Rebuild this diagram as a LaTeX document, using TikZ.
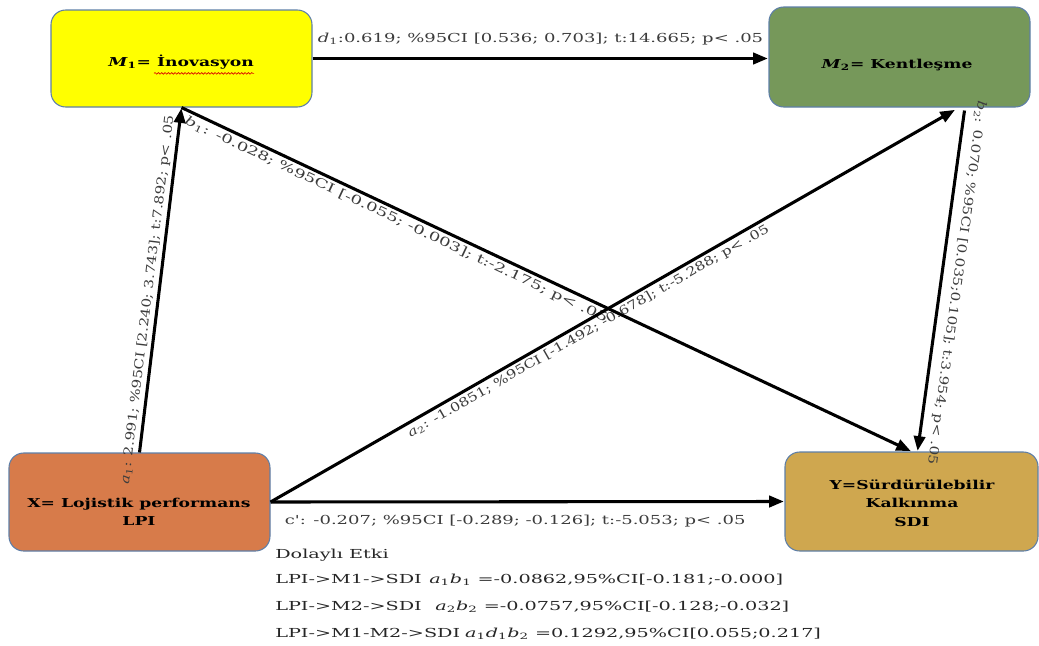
\documentclass[tikz,border=0pt]{standalone}
\usepackage{fontspec}
\setmainfont{DejaVu Serif}
\newfontfamily\lblA[FakeStretch=1.45]{DejaVu Serif}
\newfontfamily\lblB[FakeStretch=1.26]{DejaVu Serif}
\newfontfamily\lblC[FakeStretch=1.22]{DejaVu Serif}
\newfontfamily\blkfont[FakeStretch=1.55]{DejaVu Serif}
\newfontfamily\boxfont[FakeStretch=1.4]{DejaVu Serif}
\usetikzlibrary{arrows.meta,calc,decorations.pathmorphing}
\definecolor{yel}{HTML}{FFFF00}
\definecolor{grn}{RGB}{118,152,90}
\definecolor{org}{RGB}{215,123,74}
\definecolor{tan}{RGB}{207,167,79}
\definecolor{bord}{RGB}{94,127,168}
\definecolor{lblgray}{RGB}{60,60,60}
\tikzset{
  box/.style={draw=bord, line width=0.8pt, rounded corners=11pt, inner sep=0pt},
  boxtxt/.style={font=\boxfont\bfseries\fontsize{9.2}{14}\selectfont, text=black, align=center, inner sep=0pt},
  arr/.style={line width=2.3pt, -{Triangle[length=11pt,width=8.5pt]}, shorten >=0.5pt},
  lbl/.style={text=lblgray, inner sep=2pt},
  lblh/.style={lbl, font=\lblA\fontsize{9.3}{11}\selectfont},
  lbls/.style={lbl, font=\lblB\fontsize{9.3}{11}\selectfont},
  lblv/.style={lbl, font=\lblC\fontsize{9.3}{11}\selectfont},
  blk/.style={font=\blkfont\fontsize{9.3}{11}\selectfont, text=black!85, anchor=base west, inner sep=0pt},
}
\begin{document}
\begin{tikzpicture}[x=0.75pt,y=-0.75pt]
\useasboundingbox (0,0) rectangle (1039,646);
% boxes
\node[box, fill=yel, minimum width=195.75pt, minimum height=72.75pt] (M1) at (181.5,58.5) {};
\node[box, fill=grn, minimum width=195.75pt, minimum height=75pt] (M2) at (899.5,57) {};
\node[box, fill=org, minimum width=195.75pt, minimum height=73.5pt] (X) at (139.5,502) {};
\node[box, fill=tan, minimum width=189.75pt, minimum height=74.25pt] (Y) at (911.5,501.5) {};
% box texts
\node[boxtxt] (M1t) at (181,62) {\textit{M}\textsubscript{1}= İnovasyon};
\node[boxtxt] (M2t) at (897,65) {\textit{M}\textsubscript{2}= Kentleşme};
\node[boxtxt] (Xt) at (139,512) {X= Lojistik performans\\LPI};
\node[boxtxt] (Yt) at (912,503) {Y=Sürdürülebilir\\Kalkınma\\SDI};
% spell-check squiggle
\draw[red!85!black, line width=0.5pt, decorate, decoration={snake, amplitude=0.6pt, segment length=2.5pt}] ($(M1t.south east)+(-100,4)$) -- ($(M1t.south east)+(0,4)$);
% connectors
\draw[arr] (M1.east) -- (M1.east -| M2.west)
  node[lblh, pos=0.5, above=7pt] (ld1) {\textit{d}\textsubscript{1}:0.619; \%95CI [0.536; 0.703]; t:14.665; p< .05};
\draw[arr] (X.north) -- (M1.south)
  node[lblv, sloped, pos=0.44, above] (la1) {\textit{a}\textsubscript{1}: 2.991; \%95CI [2.240; 3.743]; t:7.892; p< .05};
\draw[arr] (M1.south) -- (Y.north)
  node[lblh, sloped, pos=0.30, below] (lb1) {\textit{b}\textsubscript{1}: -0.028; \%95CI [-0.055; -0.003]; t:-2.175; p< .05};
\draw[arr] (X.east) -- ($(M2.south)+(56,2)$)
  node[lbls, sloped, pos=0.457, below] (la2) {\textit{a}\textsubscript{2}: -1.0851; \%95CI [-1.492; -0.678]; t:-5.288; p< .05};
\draw[arr] ($(M2.south)+(65,3)$) -- ($(Y.north)+(6,0)$)
  node[lblv, sloped, allow upside down, pos=0.5, above=4pt] (lb2) {\textit{b}\textsubscript{2}: 0.070; \%95CI [0.035;0.105]; t:3.954; p< .05};
\draw[arr] (X.east) -- (Y.west)
  node[lblh, pos=0.476, below=7pt] (lc) {c': -0.207; \%95CI [-0.289; -0.126]; t:-5.053; p< .05};
% indirect effects
\node[blk] (d0) at (275,558) {Dolaylı Etki};
\node[blk] (d1) at (275,583) {LPI->M1->SDI\hspace{0.6em}\textit{a}\textsubscript{1}\textit{b}\textsubscript{1} =-0.0862,95\%CI[-0.181;-0.000]};
\node[blk] (d2) at (275,610) {LPI->M2->SDI\hspace{1.1em}\textit{a}\textsubscript{2}\textit{b}\textsubscript{2} =-0.0757,95\%CI[-0.128;-0.032]};
\node[blk] (d3) at (275,637) {LPI->M1-M2->SDI\hspace{0.4em}\textit{a}\textsubscript{1}\textit{d}\textsubscript{1}\textit{b}\textsubscript{2} =0.1292,95\%CI[0.055;0.217]};
\end{tikzpicture}
\end{document}
